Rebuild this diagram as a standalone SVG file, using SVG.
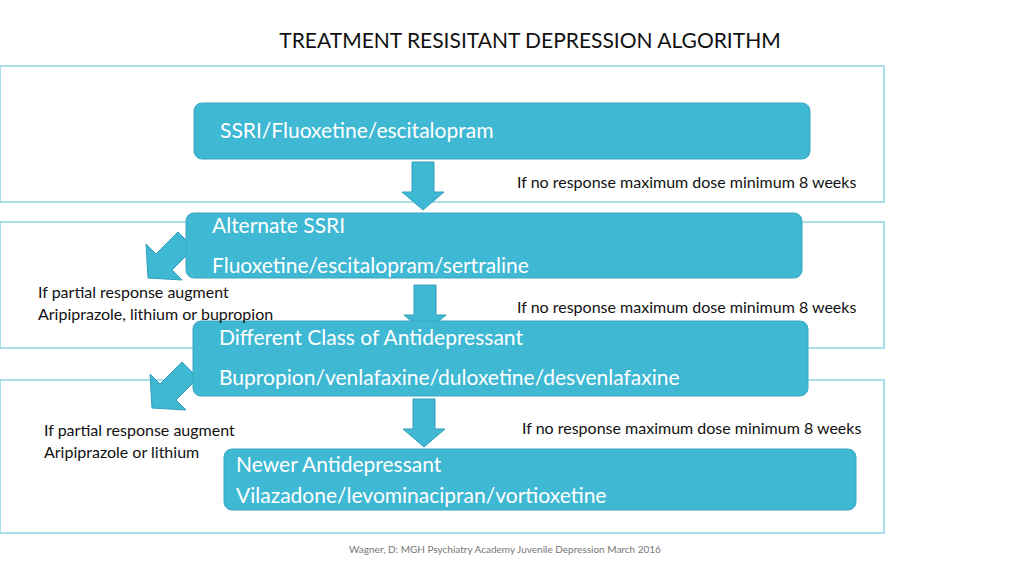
<svg xmlns="http://www.w3.org/2000/svg" width="1024" height="576" viewBox="0 0 1024 576">
<defs>
<style>
.panel{fill:none;stroke:#7fcfe0;stroke-width:1.3}
.box{fill:#3fb8d4;stroke:#3aa7c2;stroke-width:1}
.arr{fill:#3fb8d4;stroke:#2e9fbb;stroke-width:1}
.w{font-family:Lato,"Open Sans",sans-serif;fill:#fff;font-size:21px}
.k{font-family:Lato,"Open Sans",sans-serif;fill:#111;font-size:16px}
</style>
<path id="down" d="M-11,0 H11 V30 H21 L0,48 L-21,30 H-11 Z"/>
<path id="diag" d="M-8,-8 L8,8 L-14,30 L-4,40 L-38,38 L-40,4 L-30,14 Z"/>
</defs>
<rect width="1024" height="576" fill="#fff"/>
<text x="530" y="48" text-anchor="middle" font-family="Lato,'Open Sans',sans-serif" font-size="21" fill="#111">TREATMENT RESISITANT DEPRESSION ALGORITHM</text>
<g id="panels">
<rect class="panel" x="0" y="66" width="884" height="136"/>
<rect class="panel" x="0" y="222" width="884" height="126"/>
<rect class="panel" x="0" y="380" width="884" height="153"/>
</g>
<g id="connectors">
<use href="#down" class="arr" transform="translate(423,162)"/>
<use href="#down" class="arr" transform="translate(425,285)"/>
<use href="#down" class="arr" transform="translate(424,399)"/>
<use href="#diag" class="arr" transform="translate(186,240)"/>
<use href="#diag" class="arr" transform="translate(190,370)"/>
</g>
<g id="n1"><rect class="box" x="194" y="103" width="616" height="56" rx="8"/>
<text class="w" x="220" y="138">SSRI/Fluoxetine/escitalopram</text></g>
<g id="n2"><rect class="box" x="186" y="213" width="616" height="65" rx="8"/>
<text class="w" x="212" y="233">Alternate SSRI</text>
<text class="w" x="212" y="273">Fluoxetine/escitalopram/sertraline</text></g>
<g id="n3"><rect class="box" x="193" y="321" width="615" height="75" rx="8"/>
<text class="w" x="219" y="345">Different Class of Antidepressant</text>
<text class="w" x="219" y="385">Bupropion/venlafaxine/duloxetine/desvenlafaxine</text></g>
<g id="n4"><rect class="box" x="224" y="449" width="632" height="61" rx="8"/>
<text class="w" x="236" y="472">Newer Antidepressant</text>
<text class="w" x="236" y="503">Vilazadone/levominacipran/vortioxetine</text></g>
<g id="labels">
<text class="k" x="517" y="188">If no response maximum dose minimum 8 weeks</text>
<text class="k" x="517" y="313">If no response maximum dose minimum 8 weeks</text>
<text class="k" x="522" y="434" font-size="15">If no response maximum dose minimum 8 weeks</text>
<text class="k" x="38" y="298">If partial response augment</text>
<text class="k" x="38" y="320">Aripiprazole, lithium or bupropion</text>
<text class="k" x="44" y="436">If partial response augment</text>
<text class="k" x="44" y="458">Aripiprazole or lithium</text>
<text x="505" y="553" text-anchor="middle" font-family="Lato,'Open Sans',sans-serif" font-size="10" fill="#777">Wagner, D: MGH Psychiatry Academy  Juvenile Depression  March 2016</text>
</g>
</svg>
